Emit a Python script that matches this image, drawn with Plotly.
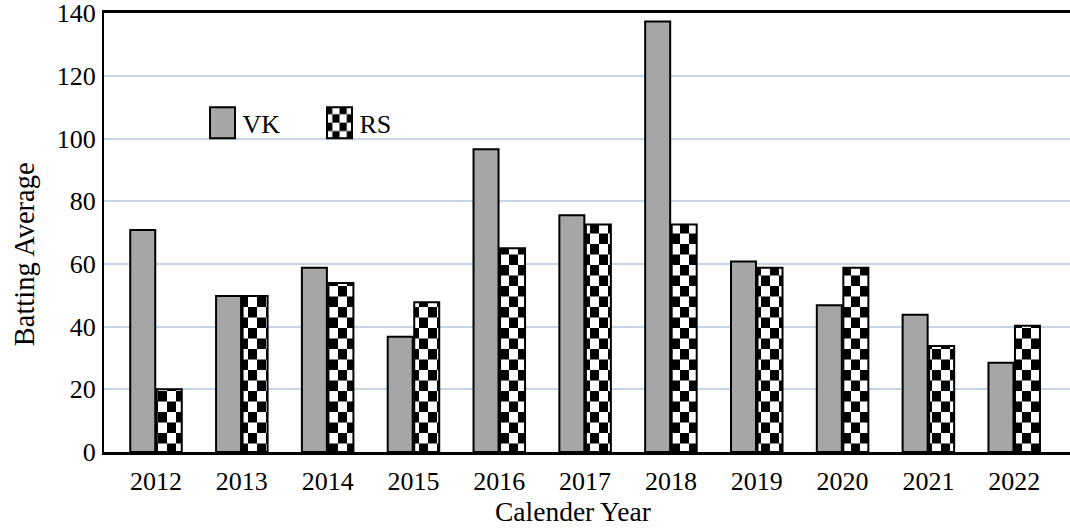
import plotly.graph_objects as go

years = ["2012", "2013", "2014", "2015", "2016", "2017", "2018", "2019", "2020", "2021", "2022"]
vk = [70.8, 49.8, 58.8, 36.8, 96.6, 75.5, 137.3, 60.8, 46.8, 43.8, 28.5]
rs = [20.0, 49.8, 53.9, 47.8, 65.0, 72.6, 72.6, 58.8, 58.8, 33.8, 40.3]
y_ticks = [0, 20, 40, 60, 80, 100, 120, 140]

FONT = "Liberation Serif, Times New Roman, serif"

fig = go.Figure()
fig.add_trace(go.Bar(
    x=years, y=vk, name="VK",
    marker=dict(color="#a6a6a6", line=dict(color="#000000", width=2)),
))
fig.add_trace(go.Bar(
    x=years, y=rs, name="RS",
    marker=dict(color="#ffffff", line=dict(color="#000000", width=2),
                pattern=dict(shape="+", fgcolor="#000000", bgcolor="#ffffff",
                             size=18, solidity=0.5)),
))

fig.update_layout(
    width=1070, height=529,
    margin=dict(l=104, r=0, t=13, b=77),
    paper_bgcolor="#ffffff", plot_bgcolor="#ffffff",
    font=dict(family=FONT, size=26, color="#000000"),
    barmode="group", bargap=0.382, bargroupgap=0.057,
    showlegend=True,
    legend=dict(orientation="h", x=0.102, xanchor="left", y=0.75, yanchor="middle",
                entrywidth=72, entrywidthmode="pixels",
                font=dict(family=FONT, size=26), bgcolor="rgba(0,0,0,0)",
                traceorder="normal"),
    xaxis=dict(type="category", range=[-0.606, 10.65], showgrid=False,
               showline=True, linecolor="#000000", linewidth=2.5, mirror=True,
               ticks="", ticklabelstandoff=4,
               tickfont=dict(family=FONT, size=26)),
    yaxis=dict(range=[0, 140.05], tickvals=y_ticks, showgrid=True,
               gridcolor="#c6d6e6", gridwidth=1.5, zeroline=False,
               showline=True, linecolor="#000000", linewidth=2,
               ticks="", ticklabelstandoff=1, ticklabeloverflow="allow",
               tickfont=dict(family=FONT, size=26)),
    annotations=[
        dict(text="Batting Average", textangle=-90, xref="paper", yref="paper",
             x=-0.082, y=0.45, xanchor="center", yanchor="middle", showarrow=False,
             font=dict(family=FONT, size=28.5)),
        dict(text="Calender Year", xref="paper", yref="paper",
             x=0.485, y=-0.135, xanchor="center", yanchor="middle", showarrow=False,
             font=dict(family=FONT, size=27.5)),
    ],
)

post = """
document.body.style.margin = '0';
document.body.style.padding = '0';
var gd = document.getElementById('{plot_id}');
var ns = 'http://www.w3.org/2000/svg';
function mk(x, y, w, h, c) {
  var r = document.createElementNS(ns, 'rect');
  r.setAttribute('x', x); r.setAttribute('y', y);
  r.setAttribute('width', w); r.setAttribute('height', h);
  r.setAttribute('fill', c);
  return r;
}
gd.querySelectorAll('pattern').forEach(function(p) {
  while (p.firstChild) p.removeChild(p.firstChild);
  p.setAttribute('width', 18); p.setAttribute('height', 21);
  p.appendChild(mk(0, 0, 18, 21, '#ffffff'));
  p.appendChild(mk(0, 0, 9, 10.5, '#000000'));
  p.appendChild(mk(9, 10.5, 9, 10.5, '#000000'));
});
gd.querySelectorAll('.legend .legendpoints path').forEach(function(p) {
  p.setAttribute('d', 'M12.5,15.5H-12.5V-15.5H12.5Z');
});
"""

fig.write_html("out.html", post_script=post, config={"displayModeBar": False})
